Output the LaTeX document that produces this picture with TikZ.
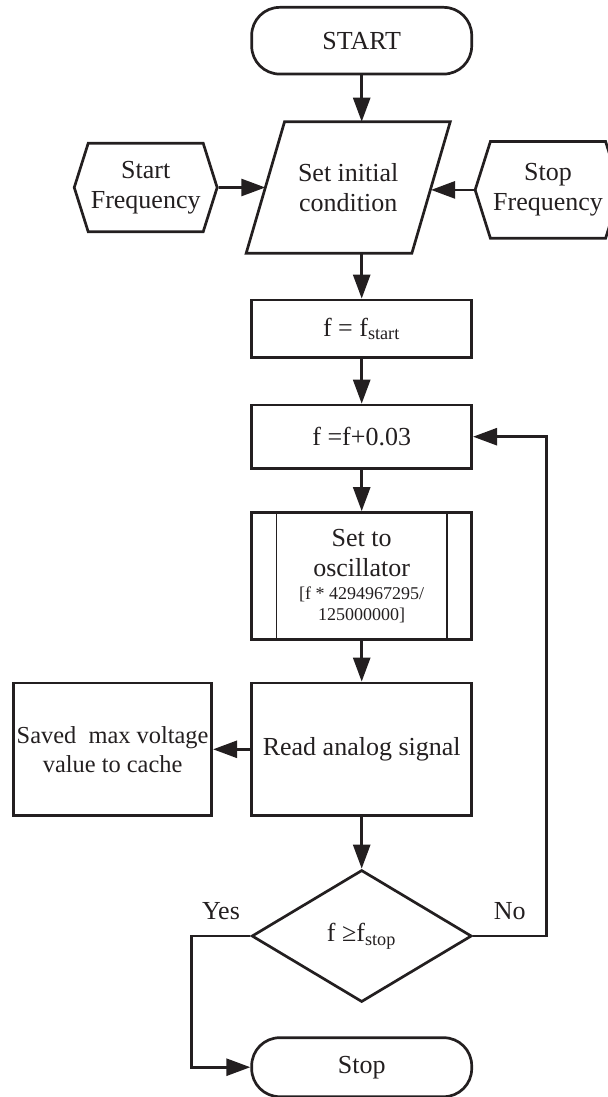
\documentclass[tikz,border=0pt]{standalone}
\usepackage{fontspec}
\setmainfont{Liberation Serif}
\usetikzlibrary{positioning,shapes.geometric,shapes.misc,shapes.symbols,arrows.meta}
\definecolor{ink}{HTML}{231F20}

\tikzset{
  base/.style={draw=ink,line width=1.35pt,text=ink,align=center,inner sep=1pt,
    font=\fontsize{13}{15}\selectfont},
  terminal/.style={base,rectangle,rounded corners=14pt,minimum width=110pt},
  process/.style={base,rectangle,minimum width=110pt},
  iobox/.style={base,draw=none,rectangle,outer sep=0pt,minimum width=82.85pt,minimum height=65.8pt},
  hexa/.style={base,signal,signal to=west and east,signal pointer angle=145},
  decision/.style={base,diamond,minimum width=110pt,minimum height=66pt,inner sep=0pt},
  flow/.style={draw=ink,line width=1.35pt,->},
  lbl/.style={text=ink,font=\fontsize{13}{15}\selectfont}
}

\begin{document}
\begin{tikzpicture}[on grid,auto]
\tikzset{>={Triangle[length=12pt,width=8.5pt]}}
\useasboundingbox (0,0) rectangle (303.5pt,-548.5pt);
  \node[terminal,minimum height=33.35pt] (start) at (180.85pt,-20.35pt) {START};
  \node[iobox] (init) [below=73.4pt of start,xshift=-6.75pt] {Set initial\\condition};
  \node[hexa,minimum width=71.45pt,minimum height=44.2pt] (fstartin) [left=101.25pt of init]
       {Start\\Frequency};
  \node[hexa,minimum width=72.85pt,minimum height=48.35pt] (fstopin) [right=99.9pt of init,yshift=-1.2pt]
       {Stop\\Frequency};
  \node[process,minimum height=28.85pt] (setf) [below=70.65pt of init,xshift=6.75pt]
       {f = f\textsubscript{start}};
  \node[process,minimum height=31.65pt] (incf) [below=53.95pt of setf] {f =f+0.03};
  \node[process,minimum height=63.4pt] (osc) [below=69.6pt of incf]
       {Set to\\oscillator\\[-3.5pt]\fontsize{9}{10.5}\selectfont [f * 4294967295/\\[-4.5pt]
        \fontsize{9}{10.5}\selectfont 125000000]};
  \node[process,minimum height=66.35pt] (read) [below=86.7pt of osc] {Read analog signal};
  \node[process,minimum width=99.15pt,minimum height=66.35pt,inner sep=0pt,
        font=\fontsize{12.2}{14.5}\selectfont] (cache)
       [left=124.55pt of read] {Saved\ \ max voltage\\value to cache};
  \node[decision] (check) [below=93.35pt of read] {f ≥f\textsubscript{stop}};
  \node[terminal,minimum height=29.5pt] (stop) [below=65.6pt of check] {Stop};
  % slanted outline of the input box
  \draw[ink,line width=1.35pt] ([xshift=9.6pt]init.north west) -- ([xshift=9.6pt]init.north east)
       -- ([xshift=-9.6pt]init.south east) -- ([xshift=-9.6pt]init.south west) -- cycle;
  % side bars of the subroutine box
  \draw[ink,line width=0.8pt] ([xshift=13pt]osc.north west) -- ([xshift=13pt]osc.south west)
       ([xshift=-13pt]osc.north east) -- ([xshift=-13pt]osc.south east);

  \draw[flow] (start.south) -- (start.south |- init.north);
  \draw[flow] (fstartin) -- (init);
  \draw[flow] (fstopin.west) -- (fstopin.west -| init.east);
  \draw[flow] (setf.north |- init.south) -- (setf.north);
  \draw[flow] (setf) -- (incf);
  \draw[flow] (incf) -- (osc);
  \draw[flow] (osc) -- (read);
  \draw[flow] (read) -- (cache);
  \draw[flow] (read) -- (check);
  \draw[flow] (check.west) -- node[lbl,above=4pt] (yes) {Yes} ++(-29.4pt,0) |- (stop.west);
  \draw[flow] (check.east) -- node[lbl,above=4pt] (no) {No} ++(36.6pt,0) |- (incf.east);
\end{tikzpicture}
\end{document}
